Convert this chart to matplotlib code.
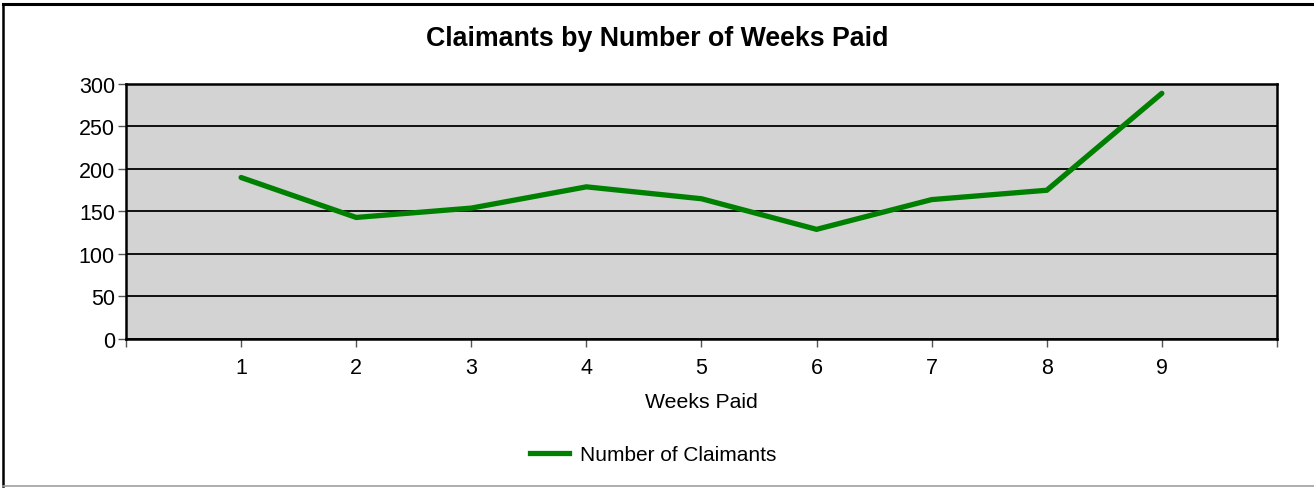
import matplotlib.pyplot as plt
from matplotlib.lines import Line2D

weeks = [1, 2, 3, 4, 5, 6, 7, 8, 9]
claimants = [190, 143, 154, 179, 165, 129, 164, 175, 289]
y_ticks = [0, 50, 100, 150, 200, 250, 300]

plt.rcParams['font.family'] = ['Liberation Sans', 'DejaVu Sans']

fig = plt.figure(figsize=(13.14, 4.89), dpi=100)
ax = fig.add_axes([0.0959, 0.3047, 0.8759, 0.5215])
ax.set_facecolor('#d3d3d3')

ax.plot(weeks, claimants, color='#008000', linewidth=3.8,
        solid_capstyle='round', solid_joinstyle='miter', label='Number of Claimants', zorder=3)

ax.set_xlim(0, 10)
ax.set_ylim(0, 300)
ax.set_yticks(y_ticks)
ax.set_xticks(range(0, 11))
ax.set_xticklabels([''] + [str(w) for w in weeks] + [''])
ax.tick_params(axis='both', labelsize=15.5, color='#555555', length=6, width=1)
ax.tick_params(axis='y', pad=2)
ax.tick_params(axis='x', pad=7)
ax.yaxis.grid(True, color='black', linewidth=1.3)
ax.set_axisbelow(True)
for s in ax.spines.values():
    s.set_linewidth(1.8)
    s.set_color('black')

ax.set_xlabel('Weeks Paid', fontsize=15.3, labelpad=10)
fig.text(0.5, 0.92, 'Claimants by Number of Weeks Paid', ha='center', va='center',
         fontsize=19.3, fontweight='bold')

fig.legend(handles=[Line2D([0], [0], color='#008000', linewidth=3.8)],
           labels=['Number of Claimants'], loc='center', bbox_to_anchor=(0.497, 0.068),
           frameon=False, fontsize=15, handlelength=1.9, handletextpad=0.5)

# frame of the screenshot
fig.add_artist(Line2D([3 / 1314, 1], [1 - 5 / 489, 1 - 5 / 489], color='black', linewidth=2.2))
fig.add_artist(Line2D([3 / 1314, 3 / 1314], [2 / 489, 1 - 5 / 489], color='black', linewidth=1.8))
fig.add_artist(Line2D([3 / 1314, 1], [2 / 489, 2 / 489], color='#a0a0a0', linewidth=1.2))

fig.savefig('out.png', dpi=100)
